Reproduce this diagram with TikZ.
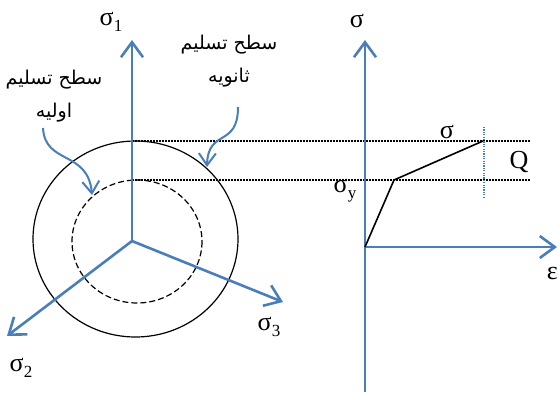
\documentclass[tikz,border=0pt]{standalone}
\usepackage{fontspec}
\setmainfont{Liberation Serif}
\newfontfamily\persianfont[Script=Arabic]{DejaVu Sans}
\TeXXeTstate=1
\usetikzlibrary{arrows.meta}

\definecolor{axisblue}{RGB}{74,126,187}
\newcommand\lowidx[1]{\raisebox{-0.5ex}{\fontsize{17}{17}\selectfont #1}}

\tikzset{
    axis/.style={line width=2.6pt, axisblue, -{Straight Barb[length=15pt, width=22pt, line width=2.6pt]}},
    pointer/.style={line width=2pt, axisblue, -{Straight Barb[length=12pt, width=17pt, line width=2pt]}},
    guide/.style={black, line width=1.5pt, dash pattern=on 1.5pt off 1.5pt},
    marker/.style={axisblue, line width=1.2pt, dash pattern=on 1.2pt off 1.2pt},
    sym/.style={font=\fontsize{26}{26}\selectfont, inner sep=0pt},
    persian/.style={font=\fontsize{19}{21}\selectfont\persianfont, inner sep=0pt}
}

\begin{document}
\begin{tikzpicture}[x=1pt, y=-1pt]

    \useasboundingbox (0,0) rectangle (558,392);

    % --------------------------------------------------
    % Principal stress space: yield surfaces
    % --------------------------------------------------
    \coordinate (O) at (132,241);
    \draw[black, line width=1.2pt] (135.5,239) ellipse [x radius=102.5, y radius=98];
    \draw[black, line width=1.2pt, dash pattern=on 6pt off 3pt] (137,241.5) ellipse [x radius=65, y radius=61.5];

    % Dotted guides to the uniaxial curve
    \draw[guide] (132,141) -- (530,141);
    \draw[guide] (132,180) -- (530,180);

    % Principal axes
    \draw[axis] (O) -- (132,40);
    \draw[axis] (O) -- (7,336);
    \draw[axis] (O) -- (283,302);

    \node[sym] (s1) at (111,22) {σ\lowidx{1}};
    \node[sym] (s2) at (21,368) {σ\lowidx{2}};
    \node[sym] (s3) at (269,327) {σ\lowidx{3}};

    % Labels of the two surfaces
    \node[persian] (primA) at (54,80) {\beginR سطح تسلیم\endR};
    \node[persian] (primB) at (54,113) {\beginR اولیه\endR};
    \node[persian] (secA) at (229,45) {\beginR سطح تسلیم\endR};
    \node[persian] (secB) at (229,78) {\beginR ثانویه\endR};

    \draw[pointer] (43,128) .. controls (45,165) and (88,150) .. (92,195);
    \draw[pointer] (238,107) .. controls (238,148) and (208,128) .. (207,167);

    % --------------------------------------------------
    % Uniaxial stress-strain curve
    % --------------------------------------------------
    \coordinate (P) at (365,247);
    \draw[axis, -] (365,392) -- (P);
    \draw[axis] (P) -- (365,40);
    \draw[axis] (P) -- (557,247);

    \coordinate (Y) at (394,180);
    \coordinate (S) at (483,141);
    \draw[black, line width=1.6pt] (P) -- (Y) -- (S);
    \draw[marker] (484,127) -- (484,197);

    \node[sym] (sig) at (357,21) {σ};
    \node[sym] (sigc) at (447,132) {σ};
    \node[sym] (sigy) at (345,191) {σ\lowidx{y}};
    \node[sym] (Q) at (519,162) {Q};
    \node[sym, anchor=east] (eps) at (558,273) {ε};

\end{tikzpicture}
\end{document}
